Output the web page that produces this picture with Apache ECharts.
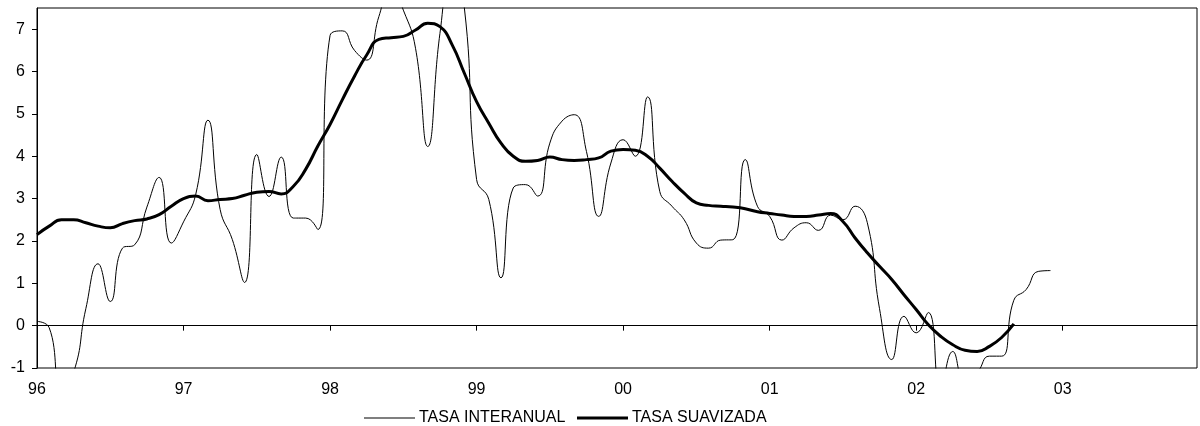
<!DOCTYPE html>
<html>
<head>
<meta charset="utf-8">
<title>Tasa interanual / suavizada</title>
<script src="https://cdn.jsdelivr.net/npm/echarts@6/dist/echarts.min.js"></script>
<style>
  html, body { margin: 0; padding: 0; background: #fff; }
  #chart { width: 1200px; height: 426px; }
</style>
</head>
<body>
<div id="chart"></div>
<script>
// años del eje x (una marca cada 12 meses)
var years = ['96', '97', '98', '99', '00', '01', '02', '03'];
var yTicks = [-1, 0, 1, 2, 3, 4, 5, 6, 7];

// datos mensuales desde ene-96
var tasaInteranual = [
  0.1, -0.05, -1.4, -1.1, 0.4, 1.46, 0.57, 1.83, 1.91, 2.8, 3.5, 1.95,      // 96
  2.45, 3.1, 4.85, 2.74, 2.03, 1.02, 4.04, 3.05, 3.98, 2.54, 2.54, 2.27,    // 97
  6.85, 6.96, 6.5, 6.27, 7.3, 8.0, 7.45, 6.55, 4.23, 6.9, 8.5, 7.5,         // 98
  3.45, 2.98, 1.13, 3.25, 3.33, 3.06, 4.31, 4.83, 4.98, 4.11, 2.58, 3.84,   // 99
  4.39, 4.0, 5.4, 3.17, 2.82, 2.5, 1.95, 1.83, 2.02, 2.03, 3.92, 2.82,      // 00
  2.58, 2.02, 2.31, 2.43, 2.25, 2.61, 2.5, 2.82, 2.43, 0.4, -0.8, 0.22,     // 01
  -0.17, 0.31, -1.5, -0.61, -1.3, -1.1, -0.72, -0.72, 0.6, 0.85, 1.28, 1.3  // 02
];
var tasaSuavizada = [
  2.15, 2.35, 2.5, 2.5, 2.43, 2.35, 2.31, 2.41, 2.48, 2.52, 2.62, 2.82,     // 96
  3.0, 3.06, 2.95, 2.98, 3.0, 3.08, 3.15, 3.17, 3.11, 3.29, 3.69, 4.24,     // 97
  4.75, 5.33, 5.89, 6.39, 6.76, 6.8, 6.83, 6.98, 7.14, 7.06, 6.63, 5.96,    // 98
  5.29, 4.78, 4.31, 4.0, 3.88, 3.9, 3.98, 3.92, 3.9, 3.92, 3.96, 4.12,      // 99
  4.16, 4.14, 4.0, 3.72, 3.41, 3.13, 2.9, 2.84, 2.82, 2.8, 2.76, 2.69,      // 00
  2.65, 2.61, 2.58, 2.58, 2.61, 2.65, 2.46, 2.07, 1.72, 1.4, 1.09, 0.73,    // 01
  0.38, 0.02, -0.25, -0.45, -0.58, -0.61, -0.49, -0.28, 0.04                // 02
];

// categorias: 12 meses por año
var months = [];
years.forEach(function (y) {
  for (var m = 1; m <= 12; m++) months.push(m + '-' + y);
});

var font = "'Liberation Sans', Arial, sans-serif";

// una leyenda por serie, para que la muestra sea una raya lisa de su grosor
function legendFor(name, left, h) {
  return {
    left: left, top: 405,
    icon: 'rect',
    itemWidth: 51, itemHeight: h,
    selectedMode: false,
    textStyle: { fontSize: 16, color: '#000', fontFamily: font, padding: [0, 0, 0, -1] },
    data: [name]
  };
}

var chart = echarts.init(document.getElementById('chart'));
chart.setOption({
  animation: false,
  textStyle: { fontFamily: font },
  grid: {
    left: 37, right: 3, top: 8, bottom: 58,
    show: true, borderColor: '#000', borderWidth: 1
  },
  legend: [
    legendFor('TASA INTERANUAL', 359, 1),
    legendFor('TASA SUAVIZADA', 572, 3)
  ],
  xAxis: {
    type: 'category',
    data: months,
    boundaryGap: false,
    axisLine: { lineStyle: { color: '#000', width: 1 } },
    axisTick: {
      length: 5, lineStyle: { color: '#000' },
      interval: function (i) { return i % 12 === 0; }
    },
    axisLabel: {
      color: '#000', fontSize: 16, margin: 14,
      interval: function (i) { return i % 12 === 0; },
      formatter: function (v) { return v.split('-')[1]; }
    },
    splitLine: { show: false }
  },
  yAxis: {
    type: 'value',
    min: -1, max: 7.5, interval: 1,
    axisLine: { show: true, lineStyle: { color: '#000', width: 1 } },
    axisTick: { show: true, length: 5, lineStyle: { color: '#000' }, customValues: yTicks },
    axisLabel: { color: '#000', fontSize: 16, margin: 12, customValues: yTicks },
    splitLine: { show: false }
  },
  series: [
    {
      name: 'TASA INTERANUAL',
      type: 'line',
      data: tasaInteranual,
      smooth: true,
      symbol: 'none',
      clip: true,
      lineStyle: { color: '#000', width: 1 },
      itemStyle: { color: '#000' },
      markLine: {
        silent: true,
        symbol: 'none',
        label: { show: false },
        lineStyle: { color: '#000', width: 1, type: 'solid' },
        data: [{ yAxis: 0 }]
      }
    },
    {
      name: 'TASA SUAVIZADA',
      type: 'line',
      data: tasaSuavizada,
      smooth: true,
      symbol: 'none',
      clip: true,
      lineStyle: { color: '#000', width: 3 },
      itemStyle: { color: '#000' }
    }
  ]
});
</script>
</body>
</html>
